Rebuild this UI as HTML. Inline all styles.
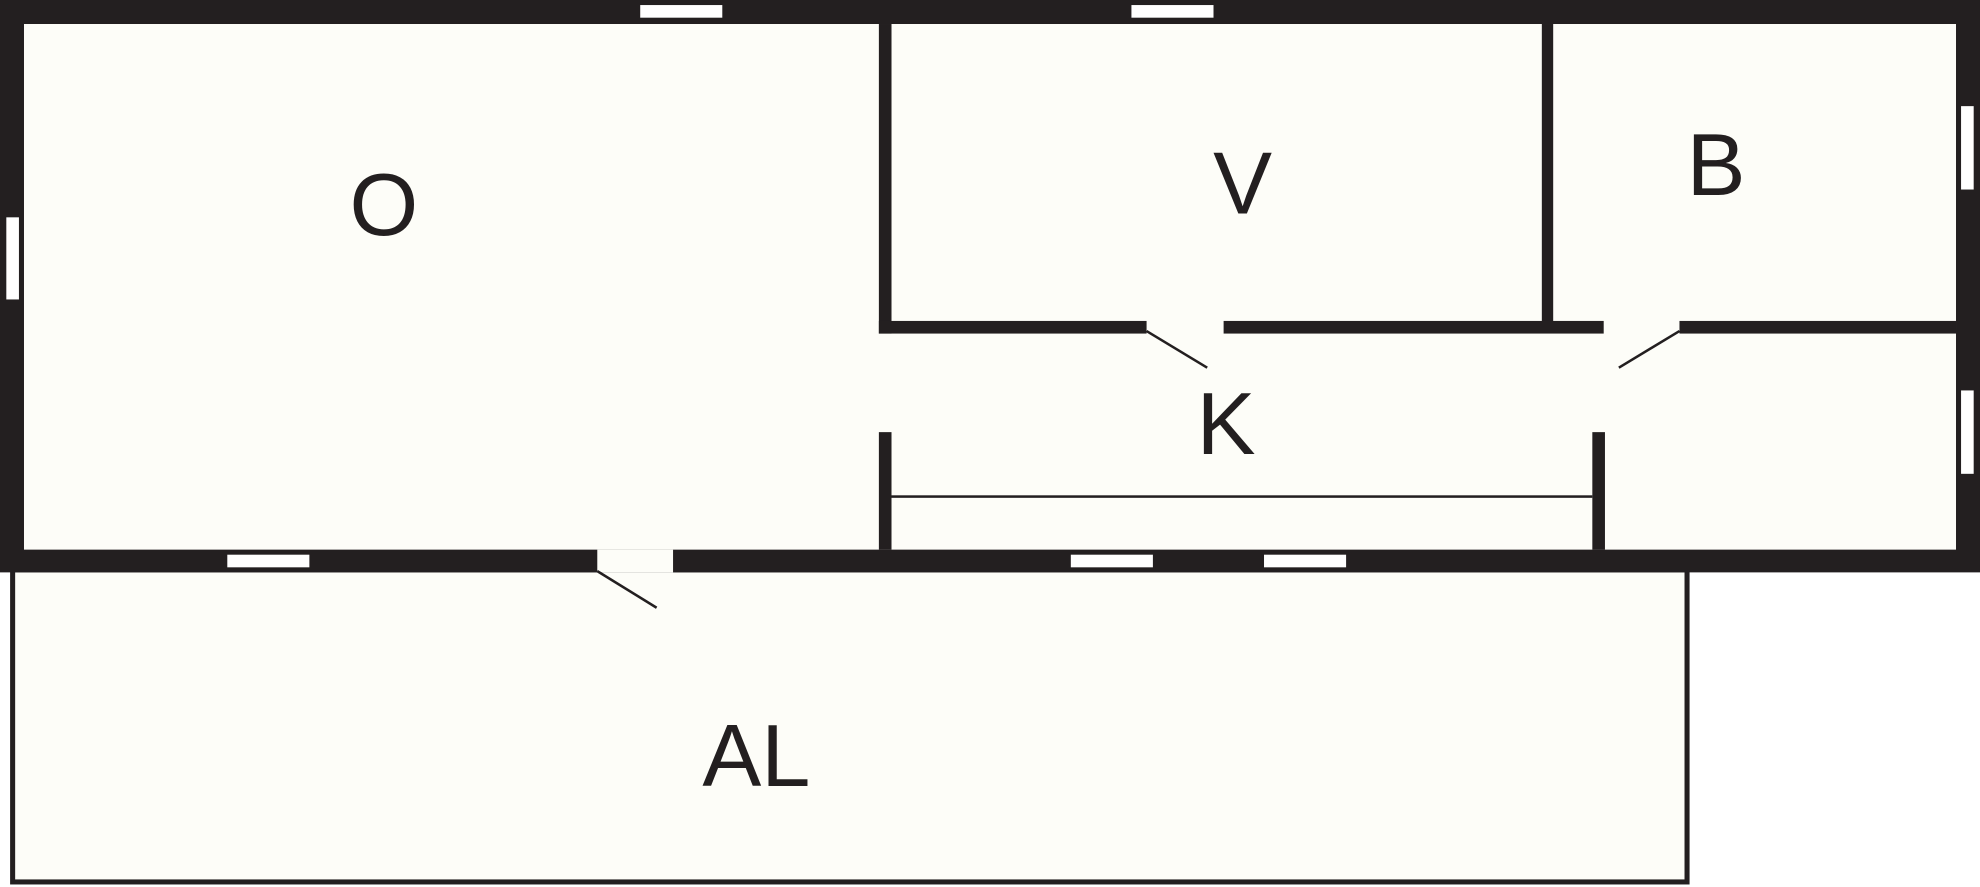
<!DOCTYPE html>
<html><head><meta charset="utf-8"><style>
html,body{margin:0;padding:0;background:#fff;}
svg{display:block;}
text{font-family:"Liberation Sans",sans-serif;fill:#231f20;text-anchor:middle;dominant-baseline:central;}
</style></head><body>
<svg width="1980" height="887" viewBox="0 0 1568 702" preserveAspectRatio="none" xmlns="http://www.w3.org/2000/svg">
<rect x="0" y="0" width="1568" height="702" fill="#fff"/>
<rect x="10" y="451" width="1326" height="247" fill="#fdfdf8" stroke="#231f20" stroke-width="4"/>
<rect x="0" y="0" width="1568" height="453" fill="#231f20"/>
<rect x="19" y="19" width="1530" height="416" fill="#fdfdf8"/>
<g fill="#fff">
<rect x="507" y="4" width="65" height="10"/>
<rect x="896" y="4" width="65" height="10"/>
<rect x="5" y="172" width="10" height="65"/>
<rect x="1553" y="84" width="10" height="66"/>
<rect x="1553" y="309" width="10" height="66"/>
<rect x="180" y="439" width="65" height="10"/>
<rect x="848" y="439" width="65" height="10"/>
<rect x="1001" y="439" width="65" height="10"/>
<rect x="473" y="435" width="60" height="18" fill="#fdfdf8"/>
</g>
<g fill="#231f20">
<rect x="696" y="19" width="10" height="245"/>
<rect x="1221" y="19" width="9" height="240"/>
<rect x="696" y="254" width="212" height="10"/>
<rect x="969" y="254" width="301" height="10"/>
<rect x="1330" y="254" width="219" height="10"/>
<rect x="696" y="342" width="10" height="93"/>
<rect x="1261" y="342" width="10" height="93"/>
<rect x="706" y="392" width="555" height="2"/>
</g>
<g stroke="#231f20" stroke-width="2">
<line x1="473" y1="452" x2="520" y2="481"/>
<line x1="908" y1="262" x2="956" y2="291"/>
<line x1="1330" y1="262" x2="1282" y2="291"/>
</g>
<text x="304" y="162" font-size="70">O</text>
<text x="984" y="145" font-size="70">V</text>
<text x="1359" y="130" font-size="70">B</text>
<text x="971" y="335" font-size="70">K</text>
<text x="599" y="598" font-size="70">AL</text>
</svg>
</body></html>
